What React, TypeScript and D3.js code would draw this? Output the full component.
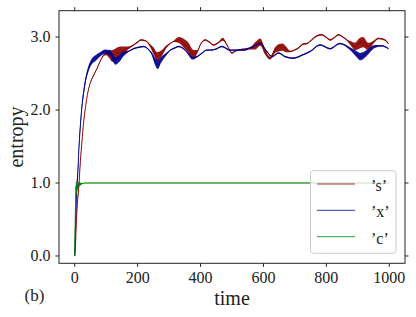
import React from "react";
import * as d3 from "d3";

// values: time, entropy, half-width of the fast-oscillation band
const sTime = [0, 2, 5, 8, 13, 18, 23, 28, 34, 40, 48, 55, 63, 71, 80, 90, 100, 110, 120, 132, 145, 156, 170, 187, 200, 210, 224, 240, 252, 262, 277, 290, 300, 315, 330, 345, 360, 378, 390, 400, 415, 428, 441, 456, 471, 484, 500, 512, 530, 547, 562, 574, 590, 605, 621, 637, 648, 660, 672, 685, 698, 711, 725, 738, 751, 764, 785, 798, 812, 825, 838, 852, 865, 878, 891, 904, 917, 933, 950, 965, 986, 997];
const sVal = [0.0, 0.1, 0.45, 0.7, 0.95, 1.3, 1.57, 1.82, 2.03, 2.2, 2.35, 2.43, 2.5, 2.57, 2.66, 2.74, 2.77, 2.76, 2.74, 2.77, 2.8, 2.82, 2.85, 2.89, 2.93, 2.96, 2.95, 2.88, 2.8, 2.73, 2.78, 2.86, 2.9, 2.94, 2.96, 2.92, 2.86, 2.76, 2.8, 2.9, 2.96, 2.93, 2.89, 2.92, 2.97, 2.89, 2.78, 2.81, 2.83, 2.84, 2.85, 2.88, 2.93, 2.8, 2.71, 2.82, 2.85, 2.86, 2.83, 2.8, 2.82, 2.85, 2.9, 2.91, 2.95, 3.0, 3.03, 3.0, 2.96, 2.99, 3.03, 3.0, 2.96, 2.91, 2.87, 2.91, 2.93, 2.87, 2.93, 2.98, 2.96, 2.91];
const sBand = [0, 0.03, 0.05, 0.05, 0.04, 0.03, 0.02, 0.02, 0.01, 0.01, 0.01, 0.01, 0.01, 0.01, 0.01, 0.01, 0.02, 0.05, 0.08, 0.08, 0.07, 0.05, 0.02, 0.01, 0.01, 0.01, 0.01, 0.02, 0.05, 0.06, 0.04, 0.02, 0.01, 0.01, 0.04, 0.06, 0.07, 0.06, 0.02, 0.01, 0.01, 0.01, 0.01, 0.01, 0.02, 0.01, 0.01, 0.01, 0.01, 0.01, 0.02, 0.05, 0.05, 0.04, 0.02, 0.04, 0.05, 0.05, 0.04, 0.01, 0.01, 0.01, 0.01, 0.01, 0.01, 0.01, 0.01, 0.01, 0.01, 0.01, 0.01, 0.01, 0.01, 0.03, 0.05, 0.07, 0.07, 0.05, 0.02, 0.01, 0.01, 0.01];

const xTime = [0, 3, 6, 9.5, 13, 18, 23, 28.6, 35, 44, 55, 66, 80, 97, 113, 122, 129, 140, 156, 170, 187, 205, 219, 232, 245, 256, 264, 275, 290, 304, 318, 330, 351, 365, 373, 389, 405, 420, 431, 446, 468, 494, 515, 537, 568, 590, 611, 627, 648, 669, 695, 722, 748, 780, 812, 843, 875, 895, 908, 928, 954, 976, 997];
const xVal = [0.0, 0.5, 0.9, 1.11, 1.45, 1.79, 2.05, 2.25, 2.42, 2.57, 2.67, 2.71, 2.76, 2.8, 2.78, 2.71, 2.67, 2.7, 2.77, 2.8, 2.84, 2.86, 2.87, 2.84, 2.77, 2.66, 2.62, 2.69, 2.76, 2.82, 2.85, 2.87, 2.82, 2.75, 2.71, 2.73, 2.78, 2.82, 2.82, 2.83, 2.87, 2.82, 2.82, 2.82, 2.87, 2.91, 2.8, 2.73, 2.78, 2.73, 2.71, 2.75, 2.8, 2.89, 2.84, 2.91, 2.84, 2.77, 2.73, 2.78, 2.87, 2.88, 2.84];
const xBand = [0.05, 0.08, 0.08, 0.08, 0.07, 0.06, 0.05, 0.05, 0.04, 0.04, 0.04, 0.04, 0.03, 0.03, 0.04, 0.05, 0.05, 0.05, 0.03, 0.01, 0.01, 0.01, 0.01, 0.01, 0.02, 0.05, 0.06, 0.04, 0.02, 0.01, 0.01, 0.01, 0.01, 0.02, 0.02, 0.01, 0.01, 0.01, 0.01, 0.01, 0.01, 0.01, 0.01, 0.01, 0.01, 0.01, 0.01, 0.01, 0.01, 0.01, 0.01, 0.01, 0.01, 0.01, 0.01, 0.01, 0.02, 0.04, 0.05, 0.04, 0.02, 0.01, 0.01];

const cTime = [0, 2, 4, 6, 9, 14, 22, 35, 1000];
const cVal = [0.0, 0.6, 0.95, 0.88, 0.96, 0.98, 0.99, 1.0, 1.0];
const cBand = [0.03, 0.1, 0.08, 0.06, 0.04, 0.03, 0.01, 0.005, 0.005];

const xTicks = [0, 200, 400, 600, 800, 1000];
const yTicks = [0, 1, 2, 3];
const legendLabels = ["’s’", "’x’", "’c’"];
const colors = ["#8b0000", "#00008b", "#008000"];

type Pt = { t: number; v: number; w: number };
const zip = (t: number[], v: number[], w: number[]): Pt[] =>
  t.map((d, i) => ({ t: d, v: v[i], w: w[i] }));

const series = [zip(sTime, sVal, sBand), zip(xTime, xVal, xBand), zip(cTime, cVal, cBand)];

const W = 416;
const H = 317;
const plot = { left: 59, right: 405, top: 10.7, bottom: 263.3 };
const font = "'Liberation Serif', 'DejaVu Serif', serif";

export default function App() {
  const x = d3.scaleLinear().domain([-50, 1050]).range([plot.left, plot.right]);
  const y = d3.scaleLinear().domain([-0.1, 3.36]).range([plot.bottom, plot.top]);

  const line = d3
    .line<Pt>()
    .x((d) => x(d.t))
    .y((d) => y(d.v))
    .curve(d3.curveMonotoneX);
  const band = d3
    .area<Pt>()
    .x((d) => x(d.t))
    .y0((d) => y(d.v - d.w))
    .y1((d) => y(d.v + d.w))
    .curve(d3.curveMonotoneX);

  const tickLen = 3.5;
  const legend = { x: 310.5, y: 170.7, w: 85.5, h: 82.6 };
  const legendY = [184, 210.3, 236.7];

  return (
    <svg
      width={W}
      height={H}
      style={{ position: "absolute", left: 0, top: 0, background: "#fff" }}
      fontFamily={font}
    >
      <defs>
        <clipPath id="clip">
          <rect x={plot.left} y={plot.top} width={plot.right - plot.left} height={plot.bottom - plot.top} />
        </clipPath>
      </defs>

      <g clipPath="url(#clip)">
        {series.map((s, i) => (
          <g key={i}>
            <path d={band(s) || ""} fill={colors[i]} fillOpacity={0.9} />
            <path d={line(s) || ""} fill="none" stroke={colors[i]} strokeWidth={0.9} />
          </g>
        ))}
      </g>

      {/* legend */}
      <rect
        x={legend.x}
        y={legend.y}
        width={legend.w}
        height={legend.h}
        rx={3}
        fill="#fff"
        fillOpacity={0.8}
        stroke="#cccccc"
        strokeWidth={1}
      />
      {legendLabels.map((lab, i) => (
        <g key={lab}>
          <line x1={317} x2={355} y1={legendY[i]} y2={legendY[i]} stroke={colors[i]} strokeWidth={0.8} />
          <text x={371} y={legendY[i] + 7} fontSize={16} fill="#222">
            {lab}
          </text>
        </g>
      ))}

      {/* spines */}
      <rect
        x={plot.left}
        y={plot.top}
        width={plot.right - plot.left}
        height={plot.bottom - plot.top}
        fill="none"
        stroke="#222"
        strokeWidth={1}
      />

      {xTicks.map((t) => (
        <g key={t}>
          <line x1={x(t)} x2={x(t)} y1={plot.bottom} y2={plot.bottom + tickLen} stroke="#222" />
          <line x1={x(t)} x2={x(t)} y1={plot.top} y2={plot.top - tickLen} stroke="#222" />
          <text x={x(t)} y={282.5} textAnchor="middle" fontSize={16} fill="#222">
            {t}
          </text>
        </g>
      ))}
      {yTicks.map((v) => (
        <g key={v}>
          <line x1={plot.left} x2={plot.left - tickLen} y1={y(v)} y2={y(v)} stroke="#222" />
          <line x1={plot.right} x2={plot.right + tickLen} y1={y(v)} y2={y(v)} stroke="#222" />
          <text x={50.5} y={y(v) + 5.5} textAnchor="end" fontSize={16} fill="#222">
            {v.toFixed(1)}
          </text>
        </g>
      ))}

      <text x={(plot.left + plot.right) / 2} y={305} textAnchor="middle" fontSize={20} fill="#222">
        time
      </text>
      <text
        transform={`translate(23,${(plot.top + plot.bottom) / 2}) rotate(-90)`}
        textAnchor="middle"
        fontSize={20}
        fill="#222"
      >
        entropy
      </text>
      <text x={24.5} y={301} fontSize={17} fill="#222">
        (b)
      </text>
    </svg>
  );
}
